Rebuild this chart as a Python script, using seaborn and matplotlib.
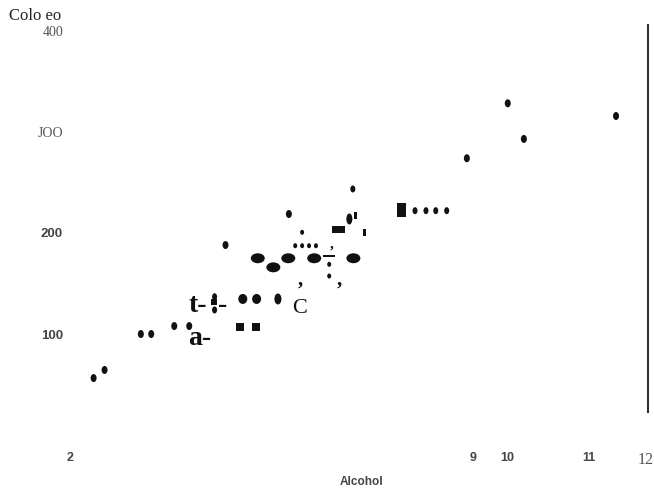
import numpy as np
import pandas as pd
import matplotlib
matplotlib.use("Agg")
import matplotlib.pyplot as plt
from matplotlib.path import Path
from matplotlib.transforms import Affine2D
import seaborn as sns

# ---------------- data ----------------
dot_x = [2.41, 2.60, 3.23, 3.41, 3.81, 4.07, 4.70, 5.80, 9.60, 11.48, 9.88, 8.89]
dot_y = [56.4, 64.4, 100.0, 100.0, 107.9, 107.9, 188.1, 218.8, 328.4, 315.8, 293.1, 274.0]
small_x = [6.91, 7.99, 8.18, 8.35, 8.54, 4.51, 4.51]
small_y = [243.6, 222.1, 222.1, 222.1, 222.1, 136.9, 123.8]
tiny_x = [5.91, 6.03, 6.15, 6.27, 6.03, 6.50, 6.50]
tiny_y = [187.4, 187.4, 187.4, 187.4, 200.7, 169.0, 157.4]
medium_x = [5.00, 5.24]
medium_y = [134.7, 134.7]
tall_x = [5.61]
tall_y = [134.7]
big_x = [5.26, 5.53, 5.79, 6.24, 6.92]
big_y = [175.0, 166.0, 175.0, 175.0, 175.0]
vert_x = [6.85]
vert_y = [213.9]
square_x = [4.95, 5.23]
square_y = [107.2, 107.2]
sqsmall_x = [4.50]
sqsmall_y = [131.7]
wide_x = [6.66]
wide_y = [203.0]
block_x = [7.75]
block_y = [222.8]
thin_x = [6.96, 7.12]
thin_y = [217.8, 200.0]
dash_x = [6.49]
dash_y = [177.2]

glyph_text = ["t-", "-", "a-", "C", ",", ",", ","]
glyph_x = [4.05, 4.57, 4.05, 5.85, 6.00, 6.68, 6.55]
glyph_y = [121.5, 121.5, 89.1, 120.8, 153.5, 153.5, 189.5]

xtick_values = [2, 9, 9.59, 11, 12]
xtick_labels = ["2", "9", "10", "11", "12"]
ytick_values = [100, 200, 300, 400]
ytick_labels = ["100", "200", "JOO", "400"]

x_title = "Alcohol"
y_title = "Colo eo"

# ---------------- build table ----------------
groups = {
    "dot": (dot_x, dot_y), "small": (small_x, small_y), "tiny": (tiny_x, tiny_y),
    "medium": (medium_x, medium_y), "tall": (tall_x, tall_y), "big": (big_x, big_y),
    "vert": (vert_x, vert_y), "square": (square_x, square_y),
    "sqsmall": (sqsmall_x, sqsmall_y), "wide": (wide_x, wide_y),
    "block": (block_x, block_y), "thin": (thin_x, thin_y),
    "dash": (dash_x, dash_y),
}
rows = []
for k, (xs, ys) in groups.items():
    for a, b in zip(xs, ys):
        rows.append({"x": a, "y": b, "kind": k})
df = pd.DataFrame(rows)


def ell(sx, sy):
    return Path.unit_circle().transformed(Affine2D().scale(sx, sy))


def rect(sx, sy):
    return Path.unit_rectangle().transformed(
        Affine2D().translate(-0.5, -0.5).scale(sx, sy))


def area(px):
    return (0.72 * px) ** 2


markers = {
    "dot": ell(0.75, 1), "small": ell(0.72, 1), "tiny": ell(0.8, 1),
    "medium": ell(0.9, 1), "tall": ell(0.64, 1), "big": ell(1, 0.71),
    "vert": ell(0.55, 1), "square": "s", "sqsmall": "s",
    "wide": rect(1, 0.54), "block": rect(0.64, 1), "thin": rect(0.43, 1),
    "dash": rect(1, 0.13),
}
sizes = {
    "dot": area(8), "small": area(7), "tiny": area(5), "medium": area(10),
    "tall": area(11), "big": area(14), "vert": area(11), "square": area(8),
    "sqsmall": area(6), "wide": area(13), "block": area(14), "thin": area(7),
    "dash": area(12),
}

# ---------------- draw ----------------
sns.set_theme(style="white")
plt.rcParams["font.family"] = ["Liberation Sans", "DejaVu Sans"]

fig = plt.figure(figsize=(6.54, 4.93), dpi=100)
ax = fig.add_axes([70 / 654, 81 / 493, 578 / 654, 387 / 493])

sns.scatterplot(data=df, x="x", y="y", style="kind", markers=markers,
                size="kind", sizes=sizes, color="#111111", linewidth=0,
                legend=False, ax=ax)

ax.set_xlim(2, 12.035)
ax.set_ylim(22.8, 405.9)

for s in ["left", "top", "bottom"]:
    ax.spines[s].set_visible(False)
ax.spines["right"].set_visible(True)
ax.spines["right"].set_linewidth(1.5)
ax.spines["right"].set_color("#333333")

ax.set_xticks(xtick_values)
ax.set_xticklabels(xtick_labels)
ax.set_yticks(ytick_values)
ax.set_yticklabels(ytick_labels)
ax.tick_params(axis="x", length=0, pad=29)
ax.tick_params(axis="y", length=0, pad=5)

for lab in ax.get_xticklabels():
    if lab.get_text() == "12":
        lab.set_fontfamily("Liberation Serif")
        lab.set_fontsize(11.5)
        lab.set_color("#555555")
    else:
        lab.set_fontfamily("Liberation Sans")
        lab.set_fontweight("bold")
        lab.set_fontsize(9)
        lab.set_color("#444444")
for lab in ax.get_yticklabels():
    if lab.get_text() in ("JOO", "400"):
        lab.set_fontfamily("Liberation Serif")
        lab.set_fontsize(10)
        lab.set_color("#555555")
    else:
        lab.set_fontfamily("Liberation Sans")
        lab.set_fontweight("bold")
        lab.set_fontsize(9.5)
        lab.set_color("#444444")

ax.set_xlabel(x_title, fontsize=8.5, fontweight="bold", color="#444444",
              family="Liberation Sans")
ax.xaxis.set_label_coords(0.505, -0.165)
ax.set_ylabel(y_title, rotation=0, ha="left", va="center", fontsize=12,
              color="#222222", family="Liberation Serif")
ax.yaxis.set_label_coords(-0.1055, 1.023)

glyph_style = [
    dict(size=20, weight="bold", ha="left", va="baseline"),
    dict(size=20, weight="bold", ha="left", va="baseline"),
    dict(size=20, weight="bold", ha="left", va="baseline"),
    dict(size=16, weight="normal", ha="left", va="baseline"),
    dict(size=15, weight="bold", ha="center", va="center"),
    dict(size=15, weight="bold", ha="center", va="center"),
    dict(size=11, weight="bold", ha="center", va="center"),
]
for t, gx, gy, st in zip(glyph_text, glyph_x, glyph_y, glyph_style):
    ax.text(gx, gy, t, family="Liberation Serif", color="#111111",
            fontsize=st["size"], fontweight=st["weight"],
            ha=st["ha"], va=st["va"])

fig.savefig("out.png", dpi=100)
